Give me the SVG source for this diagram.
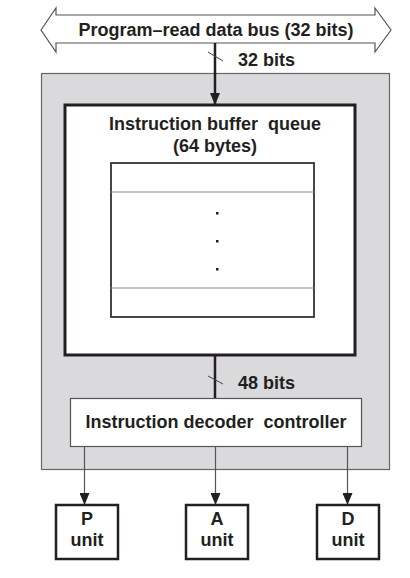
<svg xmlns="http://www.w3.org/2000/svg" width="410" height="578" viewBox="0 0 410 578">
<style>
text{font-family:"Liberation Sans",Arial,sans-serif;font-weight:bold;font-size:18px;fill:#231f20;white-space:pre}
.c{text-anchor:middle}
.thin{stroke:#555;stroke-width:1.2;fill:none}
.unit{fill:#fff;stroke:#231f20;stroke-width:2.5}
</style>
<defs>
<marker id="ah" markerWidth="12" markerHeight="10" refX="11" refY="5" orient="auto" markerUnits="userSpaceOnUse">
<path d="M0,0 L12,5 L0,10 Z" fill="#231f20"/>
</marker>
</defs>
<g id="cpu">
<rect x="41.5" y="73.5" width="348" height="396" fill="#dadadc" stroke="#666" stroke-width="1.2"/>
</g>
<g id="bus">
<polygon points="41,30 56,8 56,15 375,15 375,8 391,30 375,52 375,43 56,43 56,52" fill="#fff" stroke="#555" stroke-width="1.2"/>
<text class="c" x="216" y="36">Program–read data bus (32 bits)</text>
</g>
<g id="ibq">
<rect x="65" y="105" width="290" height="250" fill="#fff" stroke="#231f20" stroke-width="3"/>
<text class="c" x="215" y="130" xml:space="preserve">Instruction buffer  queue</text>
<text class="c" x="215" y="152">(64 bytes)</text>
<rect x="111" y="163" width="203" height="154" fill="#fff" stroke="#333" stroke-width="1.8"/>
<line x1="111" y1="192" x2="314" y2="192" stroke="#888" stroke-width="1"/>
<line x1="111" y1="288" x2="314" y2="288" stroke="#888" stroke-width="1"/>
<rect x="216" y="212" width="2.5" height="2.5" fill="#231f20"/>
<rect x="216" y="240" width="2.5" height="2.5" fill="#231f20"/>
<rect x="216" y="268" width="2.5" height="2.5" fill="#231f20"/>
</g>
<g id="decoder">
<rect x="70.5" y="398.5" width="291" height="48" fill="#fff" stroke="#555" stroke-width="1.2"/>
<text class="c" x="216" y="428" xml:space="preserve">Instruction decoder  controller</text>
</g>
<g id="punit">
<rect x="56" y="505" width="62" height="54" class="unit"/>
<text class="c" x="87" y="525">P</text>
<text class="c" x="87" y="546">unit</text>
</g>
<g id="aunit">
<rect x="186" y="505" width="62" height="54" class="unit"/>
<text class="c" x="217" y="525">A</text>
<text class="c" x="217" y="546">unit</text>
</g>
<g id="dunit">
<rect x="317" y="505" width="62" height="54" class="unit"/>
<text class="c" x="348" y="525">D</text>
<text class="c" x="348" y="546">unit</text>
</g>
<g id="connectors">
<line x1="215" y1="43" x2="215" y2="104" stroke="#231f20" stroke-width="2.5" marker-end="url(#ah)"/>
<line x1="208" y1="52" x2="223" y2="61" stroke="#444" stroke-width="1"/>
<text x="238" y="66">32 bits</text>
<line x1="215" y1="356" x2="215" y2="398" stroke="#231f20" stroke-width="2.5"/>
<line x1="208" y1="376" x2="223" y2="384" stroke="#444" stroke-width="1"/>
<text x="238" y="389">48 bits</text>
<line x1="84.5" y1="447" x2="84.5" y2="504" class="thin" marker-end="url(#ah)"/>
<line x1="215.5" y1="447" x2="215.5" y2="504" class="thin" marker-end="url(#ah)"/>
<line x1="347.5" y1="447" x2="347.5" y2="504" class="thin" marker-end="url(#ah)"/>
</g>
</svg>
